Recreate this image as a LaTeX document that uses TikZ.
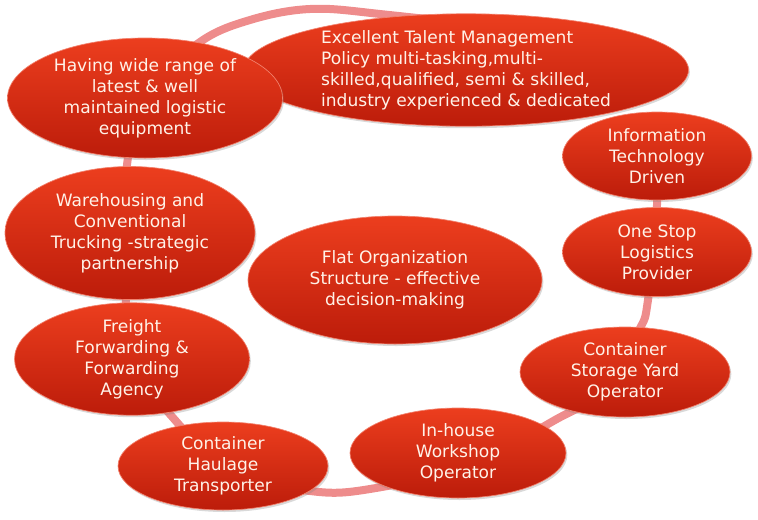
\documentclass[tikz,border=0pt]{standalone}
\usepackage{fontspec}
\setmainfont{DejaVu Sans}
\usepackage{tikz}
\usetikzlibrary{shapes.geometric, shadows}
\usepackage{xcolor}
\definecolor{ringpink}{RGB}{238,140,140}
\definecolor{bubbletop}{RGB}{236,62,30}
\definecolor{bubblebot}{RGB}{188,28,10}
\definecolor{bubblerim}{RGB}{242,130,110}
\definecolor{bubbletext}{RGB}{255,242,232}

\begin{document}
\begin{tikzpicture}[x=0.75pt, y=-0.75pt,
  bubble/.style 2 args={ellipse, inner sep=0pt, align=center,
    minimum width=#1*0.75pt, minimum height=#2*0.75pt,
    top color=bubbletop, bottom color=bubblebot, draw=bubblerim, line width=0.5pt,
    text=bubbletext, font=\fontsize{12.8}{15.75}\selectfont,
    drop shadow={opacity=0.3, shadow xshift=1pt, shadow yshift=-1.5pt}}]
  \useasboundingbox (0,0) rectangle (758,519);
  % Ring behind the bubbles (ends hidden under the bubbles)
  \draw[ringpink, line width=6pt] plot[smooth, tension=0.6] coordinates {
    (655,150) (657,205) (648,300) (638,332)
    (600,392) (555,420) (470,465) (370,489) (310,491) (230,472) (175,420)
    (140,370) (126,303) (127,165) (150,90) (200,42) (250,20)
    (310,9) (380,14) (520,32) (600,60)};
  % Top row
  \node[bubble={445}{112}, align=left] (talent) at (466,70)
    {Excellent Talent Management\\Policy multi-tasking,multi-\\skilled,qualified, semi \& skilled,\\industry experienced \& dedicated};
  \node[bubble={275}{120}] (equip) at (145,98)
    {Having wide range of\\latest \& well\\maintained logistic\\equipment};
  % Right side
  \node[bubble={189}{88}] (itech) at (657,156) {Information\\Technology\\Driven};
  \node[bubble={189}{89}] (onestop) at (657,252) {One Stop\\Logistics\\Provider};
  \node[bubble={210}{90}] (yard) at (625,372) {Container\\Storage Yard\\Operator};
  % Bottom
  \node[bubble={216}{90}] (workshop) at (458,453) {In-house\\Workshop\\Operator};
  \node[bubble={210}{88}] (haulage) at (223,466) {Container\\Haulage\\Transporter};
  % Left side
  \node[bubble={235}{112}] (freight) at (132,359) {Freight\\Forwarding \&\\Forwarding\\Agency};
  \node[bubble={250}{133}] (warehouse) at (130,233) {Warehousing and\\Conventional\\Trucking -strategic\\partnership};
  % Centre
  \node[bubble={294}{128}] (flat) at (395,280) {Flat Organization\\Structure - effective\\decision-making};
\end{tikzpicture}
\end{document}
